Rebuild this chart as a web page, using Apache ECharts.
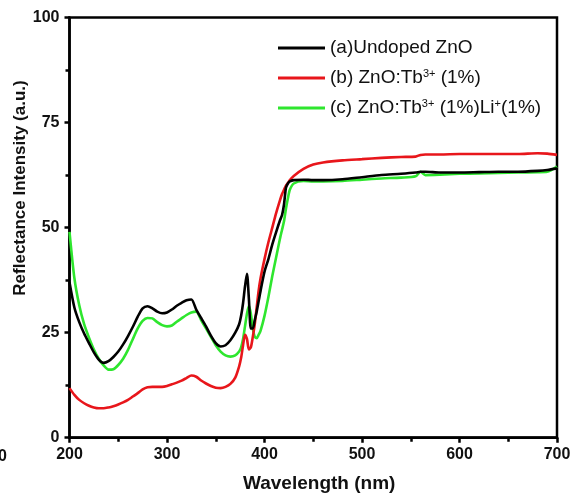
<!DOCTYPE html>
<html>
<head>
<meta charset="utf-8">
<script src="https://cdn.jsdelivr.net/npm/echarts@6/dist/echarts.min.js"></script>
<style>
  html, body { margin: 0; padding: 0; background: #fff; }
  #chart { width: 579px; height: 501px; }
</style>
</head>
<body>
<div id="chart"></div>
<script>
// Diffuse reflectance spectra of ZnO samples
const wavelength = [200,205,210,215,220,225,230,235,240,245,250,255,260,265,270,275,280,285,290,295,
  300,305,310,315,320,325,330,335,340,345,350,355,360,365,370,374,376,378,380,382,384,386,388,390,392,394,396,
  400,404,408,412,416,418,420,422,424,426,430,440,450,460,480,500,520,540,555,560,565,580,600,620,640,660,680,690,700];

const undopedZnO = [37,31,27.5,24.8,22.5,20.3,18.6,17.8,18.2,19.2,20.5,22.2,24.2,26.4,28.8,30.8,31.3,30.8,30,29.6,
  29.8,30.5,31.4,32.1,32.7,32.9,30.5,28.5,26.5,24.3,22.5,21.7,22,23.2,25,27,29,32,36,39,33,26,26,28,30,32.5,35,
  39.5,42.5,46,49,51.8,53,55.5,59.5,60.5,61,61.3,61.4,61.3,61.3,61.5,62,62.5,62.8,63.1,63.3,63.3,63.1,63.1,63.2,63.3,63.3,63.5,63.7,64.1];

const znoTb = [11.8,10.2,9,8.2,7.6,7.2,7.0,7.0,7.2,7.5,7.9,8.4,9,9.8,10.6,11.5,12,12.1,12.1,12.1,
  12.3,12.7,13.1,13.6,14.2,14.8,14.5,13.6,12.9,12.3,11.9,11.8,12.1,12.8,14.3,17,19,22,24.5,23.5,21,21.5,24,27,31,35,38,
  42.5,46.5,50,53.5,56.6,58,59,60,60.6,61.3,62.3,64,65,65.5,66,66.3,66.6,66.8,66.9,67.3,67.4,67.4,67.5,67.5,67.5,67.5,67.7,67.6,67.3];

const znoTbLi = [49,38,31.5,27,23.8,21,18.8,17.2,16.2,16.3,17.3,18.8,20.9,23.5,26,27.8,28.5,28.4,27.5,26.8,
  26.5,26.7,27.6,28.4,29.2,29.8,30,28,26,24,22,20.5,19.6,19.3,19.6,20.5,21.5,23.5,26.5,29.5,31.4,29.5,26,24,23.7,24.5,25.5,
  29,33.5,38.5,43,47.5,49.5,51.5,54.5,57,59,60.5,61.1,61,61,61.1,61.4,61.7,61.9,62.2,63.3,62.5,62.6,62.8,62.9,63,63.1,63.2,63.3,64.5];

const seriesNames = ['(a)Undoped ZnO', '(b) ZnO:Tb3+ (1%)', '(c) ZnO:Tb3+ (1%)Li+(1%)'];
const seriesColors = ['#000000', '#e8161b', '#2ee62e'];
const seriesValues = [undopedZnO, znoTb, znoTbLi];

const xTickValues = [200, 300, 400, 500, 600, 700];
const yTickValues = [0, 25, 50, 75, 100];

// legend labels with superscript ion charges
const legendRich = {
  '(a)Undoped ZnO': '(a)Undoped ZnO',
  '(b) ZnO:Tb3+ (1%)': '(b) ZnO:Tb{sup|3+} (1%)',
  '(c) ZnO:Tb3+ (1%)Li+(1%)': '(c) ZnO:Tb{sup|3+} (1%)Li{sup|+}(1%)'
};

const FONT = '"Liberation Sans", Arial, sans-serif';
const chart = echarts.init(document.getElementById('chart'), null, { renderer: 'canvas' });

const axisCommon = {
  axisLine: { show: true, lineStyle: { color: '#000', width: 2.5 } },
  axisTick: { show: true, inside: false, length: 5, lineStyle: { color: '#000', width: 2.5 } },
  minorTick: { show: true, splitNumber: 2, length: 4, lineStyle: { color: '#000', width: 2.5 } },
  splitLine: { show: false },
  axisLabel: { color: '#111', fontFamily: FONT, fontWeight: 'bold', fontSize: 16 }
};

chart.setOption({
  animation: false,
  backgroundColor: '#fff',
  grid: {
    left: 69.5, right: 22, top: 17.5, bottom: 63.3,
    show: true, borderColor: '#000', borderWidth: 2.5, backgroundColor: 'transparent'
  },
  xAxis: Object.assign({}, axisCommon, {
    type: 'value', min: 200, max: 700, interval: 100,
    axisLabel: Object.assign({}, axisCommon.axisLabel, {
      margin: 9,
      formatter: v => xTickValues.includes(v) ? String(v) : ''
    })
  }),
  yAxis: Object.assign({}, axisCommon, {
    type: 'value', min: 0, max: 100, interval: 25,
    axisLabel: Object.assign({}, axisCommon.axisLabel, {
      margin: 10,
      formatter: v => yTickValues.includes(v) ? String(v) : ''
    })
  }),
  legend: {
    orient: 'vertical',
    left: 273, top: 32,
    itemWidth: 47, itemHeight: 14, itemGap: 8,
    icon: 'path://M0,6 L47,6 L47,9 L0,9 Z',
    data: seriesNames,
    formatter: name => legendRich[name],
    textStyle: {
      color: '#111', fontFamily: FONT, fontSize: 19, lineHeight: 22,
      rich: {
        sup: { fontSize: 11, fontFamily: FONT, color: '#111', lineHeight: 22, padding: [0, 0, 9, 0] }
      }
    }
  },
  graphic: [
    {
      type: 'text', left: 243, top: 474,
      style: { text: 'Wavelength (nm)', font: 'bold 19px ' + FONT, fill: '#111' }
    },
    {
      type: 'text', x: 12, y: 188, rotation: Math.PI / 2,
      style: {
        text: 'Reflectance Intensity (a.u.)', font: 'bold 17px ' + FONT, fill: '#111',
        align: 'center', verticalAlign: 'top'
      }
    },
    {
      type: 'text', left: -2, top: 449,
      style: { text: '0', font: 'bold 16px ' + FONT, fill: '#111' }
    }
  ],
  series: seriesNames.map((name, i) => ({
    name: name,
    type: 'line',
    data: wavelength.map((w, k) => [w, seriesValues[i][k]]),
    showSymbol: false,
    symbol: 'none',
    smooth: 0.25,
    color: seriesColors[i],
    lineStyle: { color: seriesColors[i], width: 2.6 },
    z: i === 0 ? 3 : (i === 1 ? 2 : 1)
  }))
});
</script>
</body>
</html>
